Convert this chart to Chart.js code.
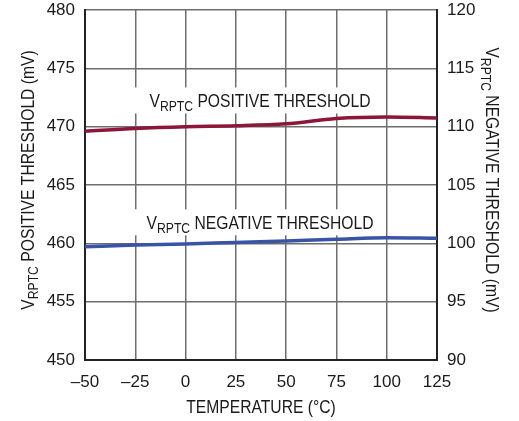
<!DOCTYPE html>
<html>
<head>
<meta charset="utf-8">
<script src="https://cdn.jsdelivr.net/npm/chart.js@4"></script>
<style>
  body { margin: 0; background: #fff; }
  canvas { display: block; }
</style>
</head>
<body>
<canvas id="thresholdChart" width="519" height="421"></canvas>
<script>
// Data
const temperatures = [-50, -25, 0, 25, 50, 75, 100, 125];
const positiveThreshold = [469.6, 469.85, 470.0, 470.08, 470.25, 470.7, 470.83, 470.75]; // mV, left axis
const negativeThreshold = [99.7, 99.85, 99.94, 100.08, 100.2, 100.35, 100.48, 100.43];   // mV, right axis

const FONT = '"Liberation Sans", Arial, sans-serif';
const TEXT_COLOR = '#1a1a1a';
const GRID_COLOR = '#6e6e6e';
const SQUEEZE = 0.87; // the reference uses a condensed face

// Draws condensed text centred at (0,0); parts = [{t, s, dy}]
function drawParts(ctx, parts) {
    let total = 0;
    parts.forEach(p => {
        ctx.font = p.s + 'px ' + FONT;
        p.w = ctx.measureText(p.t).width;
        total += p.w;
    });
    ctx.save();
    ctx.scale(SQUEEZE, 1);
    let x = -total / 2;
    ctx.textAlign = 'left';
    ctx.textBaseline = 'alphabetic';
    parts.forEach(p => {
        ctx.font = p.s + 'px ' + FONT;
        ctx.fillText(p.t, x, 6.5 + (p.dy || 0));
        x += p.w;
    });
    ctx.restore();
}

// "V" + subscript "RPTC" + rest
function drawSubText(ctx, rest, size) {
    drawParts(ctx, [
        { t: 'V', s: size },
        { t: 'RPTC', s: Math.round(size * 0.75), dy: size * 0.25 },
        { t: rest, s: size }
    ]);
}

const axisTitles = {
    id: 'axisTitles',
    afterDraw(chart) {
        const ctx = chart.ctx;
        const area = chart.chartArea;
        const midY = (area.top + area.bottom) / 2;
        ctx.save();
        ctx.fillStyle = TEXT_COLOR;

        ctx.save();
        ctx.translate((area.left + area.right) / 2, 406);
        drawParts(ctx, [{ t: 'TEMPERATURE (°C)', s: 18 }]);
        ctx.restore();

        ctx.save();
        ctx.translate(27, midY - 5);
        ctx.rotate(-Math.PI / 2);
        drawSubText(ctx, ' POSITIVE THRESHOLD (mV)', 18);
        ctx.restore();

        ctx.save();
        ctx.translate(492, midY - 5);
        ctx.rotate(Math.PI / 2);
        drawSubText(ctx, ' NEGATIVE THRESHOLD (mV)', 18);
        ctx.restore();

        ctx.restore();
    }
};

// Curve labels with white boxes, anchored in data coordinates
const curveLabels = {
    id: 'curveLabels',
    beforeDatasetsDraw(chart) {
        const ctx = chart.ctx;
        const xs = chart.scales.x;
        const ys = chart.scales.y;
        const labels = [
            { x: 37, y: 472.25, text: ' POSITIVE THRESHOLD' },
            { x: 37, y: 461.8, text: ' NEGATIVE THRESHOLD' }
        ];
        ctx.save();
        labels.forEach(l => {
            const cx = xs.getPixelForValue(l.x);
            const cy = ys.getPixelForValue(l.y);
            ctx.fillStyle = '#fff';
            ctx.fillRect(cx - 130, cy - 13, 250, 26);
            ctx.fillStyle = TEXT_COLOR;
            ctx.save();
            ctx.translate(cx, cy);
            drawSubText(ctx, l.text, 18);
            ctx.restore();
        });
        ctx.restore();
    }
};

const tickFont = { family: FONT, size: 17 };

function fitVertical(width) {
    return s => {
        s.width = width;
        s.paddingTop = 0;
        s.paddingBottom = 0;
    };
}

new Chart(document.getElementById('thresholdChart').getContext('2d'), {
    type: 'line',
    data: {
        labels: temperatures,
        datasets: [
            {
                label: 'Positive threshold',
                data: temperatures.map((t, i) => ({ x: t, y: positiveThreshold[i] })),
                borderColor: '#8c1738',
                borderWidth: 3.5,
                pointRadius: 0,
                cubicInterpolationMode: 'monotone',
                yAxisID: 'y'
            },
            {
                label: 'Negative threshold',
                data: temperatures.map((t, i) => ({ x: t, y: negativeThreshold[i] })),
                borderColor: '#3954a5',
                borderWidth: 3.5,
                pointRadius: 0,
                cubicInterpolationMode: 'monotone',
                yAxisID: 'y1'
            }
        ]
    },
    options: {
        responsive: false,
        animation: false,
        devicePixelRatio: 1,
        layout: { padding: { top: 10, left: 0, right: 0, bottom: 0 } },
        plugins: {
            legend: { display: false },
            tooltip: { enabled: false }
        },
        scales: {
            x: {
                type: 'linear',
                min: -50,
                max: 125,
                ticks: {
                    stepSize: 25,
                    color: TEXT_COLOR,
                    font: tickFont,
                    padding: 12,
                    maxRotation: 0,
                    callback: v => String(v).replace('-', '\u2013')
                },
                grid: { color: GRID_COLOR, lineWidth: 1.5, drawTicks: false },
                border: { color: '#222', width: 2 },
                afterFit: s => {
                    s.height = 61;
                    s.paddingLeft = 0;
                    s.paddingRight = 0;
                }
            },
            y: {
                position: 'left',
                min: 450,
                max: 480,
                ticks: { stepSize: 5, color: TEXT_COLOR, font: tickFont, padding: 10 },
                grid: { color: GRID_COLOR, lineWidth: 1.5, drawTicks: false },
                border: { color: '#222', width: 2 },
                afterFit: fitVertical(85)
            },
            y1: {
                position: 'right',
                min: 90,
                max: 120,
                ticks: { stepSize: 5, color: TEXT_COLOR, font: tickFont, padding: 10 },
                grid: { drawOnChartArea: false, drawTicks: false },
                border: { color: '#222', width: 2 },
                afterFit: fitVertical(82)
            }
        }
    },
    plugins: [curveLabels, axisTitles]
});
</script>
</body>
</html>
